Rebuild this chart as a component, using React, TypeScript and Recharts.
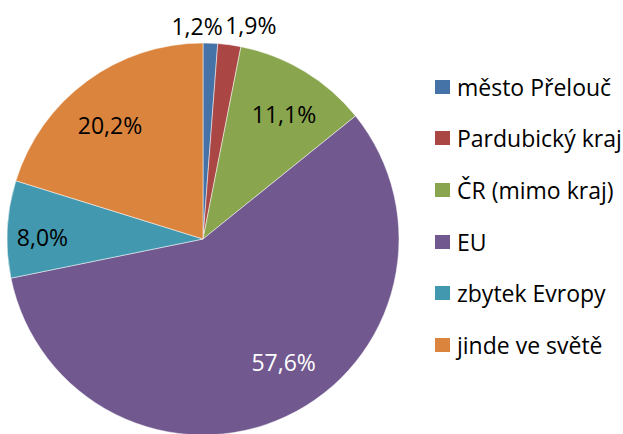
import { PieChart, Pie, Cell, Legend } from 'recharts'

const categories = ['město Přelouč', 'Pardubický kraj', 'ČR (mimo kraj)', 'EU', 'zbytek Evropy', 'jinde ve světě']
const shares = [1.2, 1.9, 11.1, 57.6, 8.0, 20.2]
const colors = ['#4572A7', '#AA4643', '#89A54E', '#71588F', '#4198AF', '#DB843D']

// label placement: fraction of the radius, then a small nudge (Excel "best fit" look)
const labelRadius = [1.09, 1.09, 0.75, 0.75, 0.82, 0.74]
const labelNudgeX = [-14, 19, 5, 18, 0, -7]
const labelNudgeY = [0, -2, 1, -10, 6, 3]

const data = categories.map((name, i) => ({ name, value: shares[i] }))
const RAD = Math.PI / 180
const FONT = '"Open Sans", Lato, sans-serif'

function fmt(v: number) {
  return v.toFixed(1).replace('.', ',') + '%'
}

function renderLabel(props: any) {
  const { cx, cy, midAngle, outerRadius, index, value } = props
  const r = outerRadius * labelRadius[index]
  const x = cx + r * Math.cos(-midAngle * RAD) + labelNudgeX[index]
  const y = cy + r * Math.sin(-midAngle * RAD) + labelNudgeY[index]
  return (
    <text
      x={x}
      y={y}
      textAnchor="middle"
      dominantBaseline="central"
      fill={index === 3 ? '#ffffff' : '#000000'}
      fontSize={23}
      fontFamily={FONT}
    >
      {fmt(value)}
    </text>
  )
}

function LegendBox() {
  return (
    <div style={{ fontFamily: FONT, fontSize: 23, color: '#000' }}>
      {categories.map((c, i) => (
        <div key={c} style={{ display: 'flex', alignItems: 'center', height: 51.6 }}>
          <span style={{ width: 15, height: 14, background: colors[i], marginRight: 7, flex: 'none' }} />
          <span style={{ whiteSpace: 'nowrap' }}>{c}</span>
        </div>
      ))}
    </div>
  )
}

export default function App() {
  return (
    <div style={{ position: 'absolute', left: 0, top: 0, width: 623, height: 434, background: '#fff' }}>
      <PieChart width={623} height={434} margin={{ top: 0, right: 0, bottom: 0, left: 0 }}>
        <Pie
          data={data}
          dataKey="value"
          nameKey="name"
          cx={203}
          cy={239}
          outerRadius={196}
          startAngle={90}
          endAngle={-270}
          stroke="#ffffff"
          strokeWidth={0.5}
          label={renderLabel}
          labelLine={false}
          isAnimationActive={false}
        >
          {data.map((d, i) => (
            <Cell key={d.name} fill={colors[i]} />
          ))}
        </Pie>
        <Legend
          layout="vertical"
          align="right"
          verticalAlign="top"
          wrapperStyle={{ left: 435, top: 61, width: 188 }}
          content={() => <LegendBox />}
        />
      </PieChart>
    </div>
  )
}
